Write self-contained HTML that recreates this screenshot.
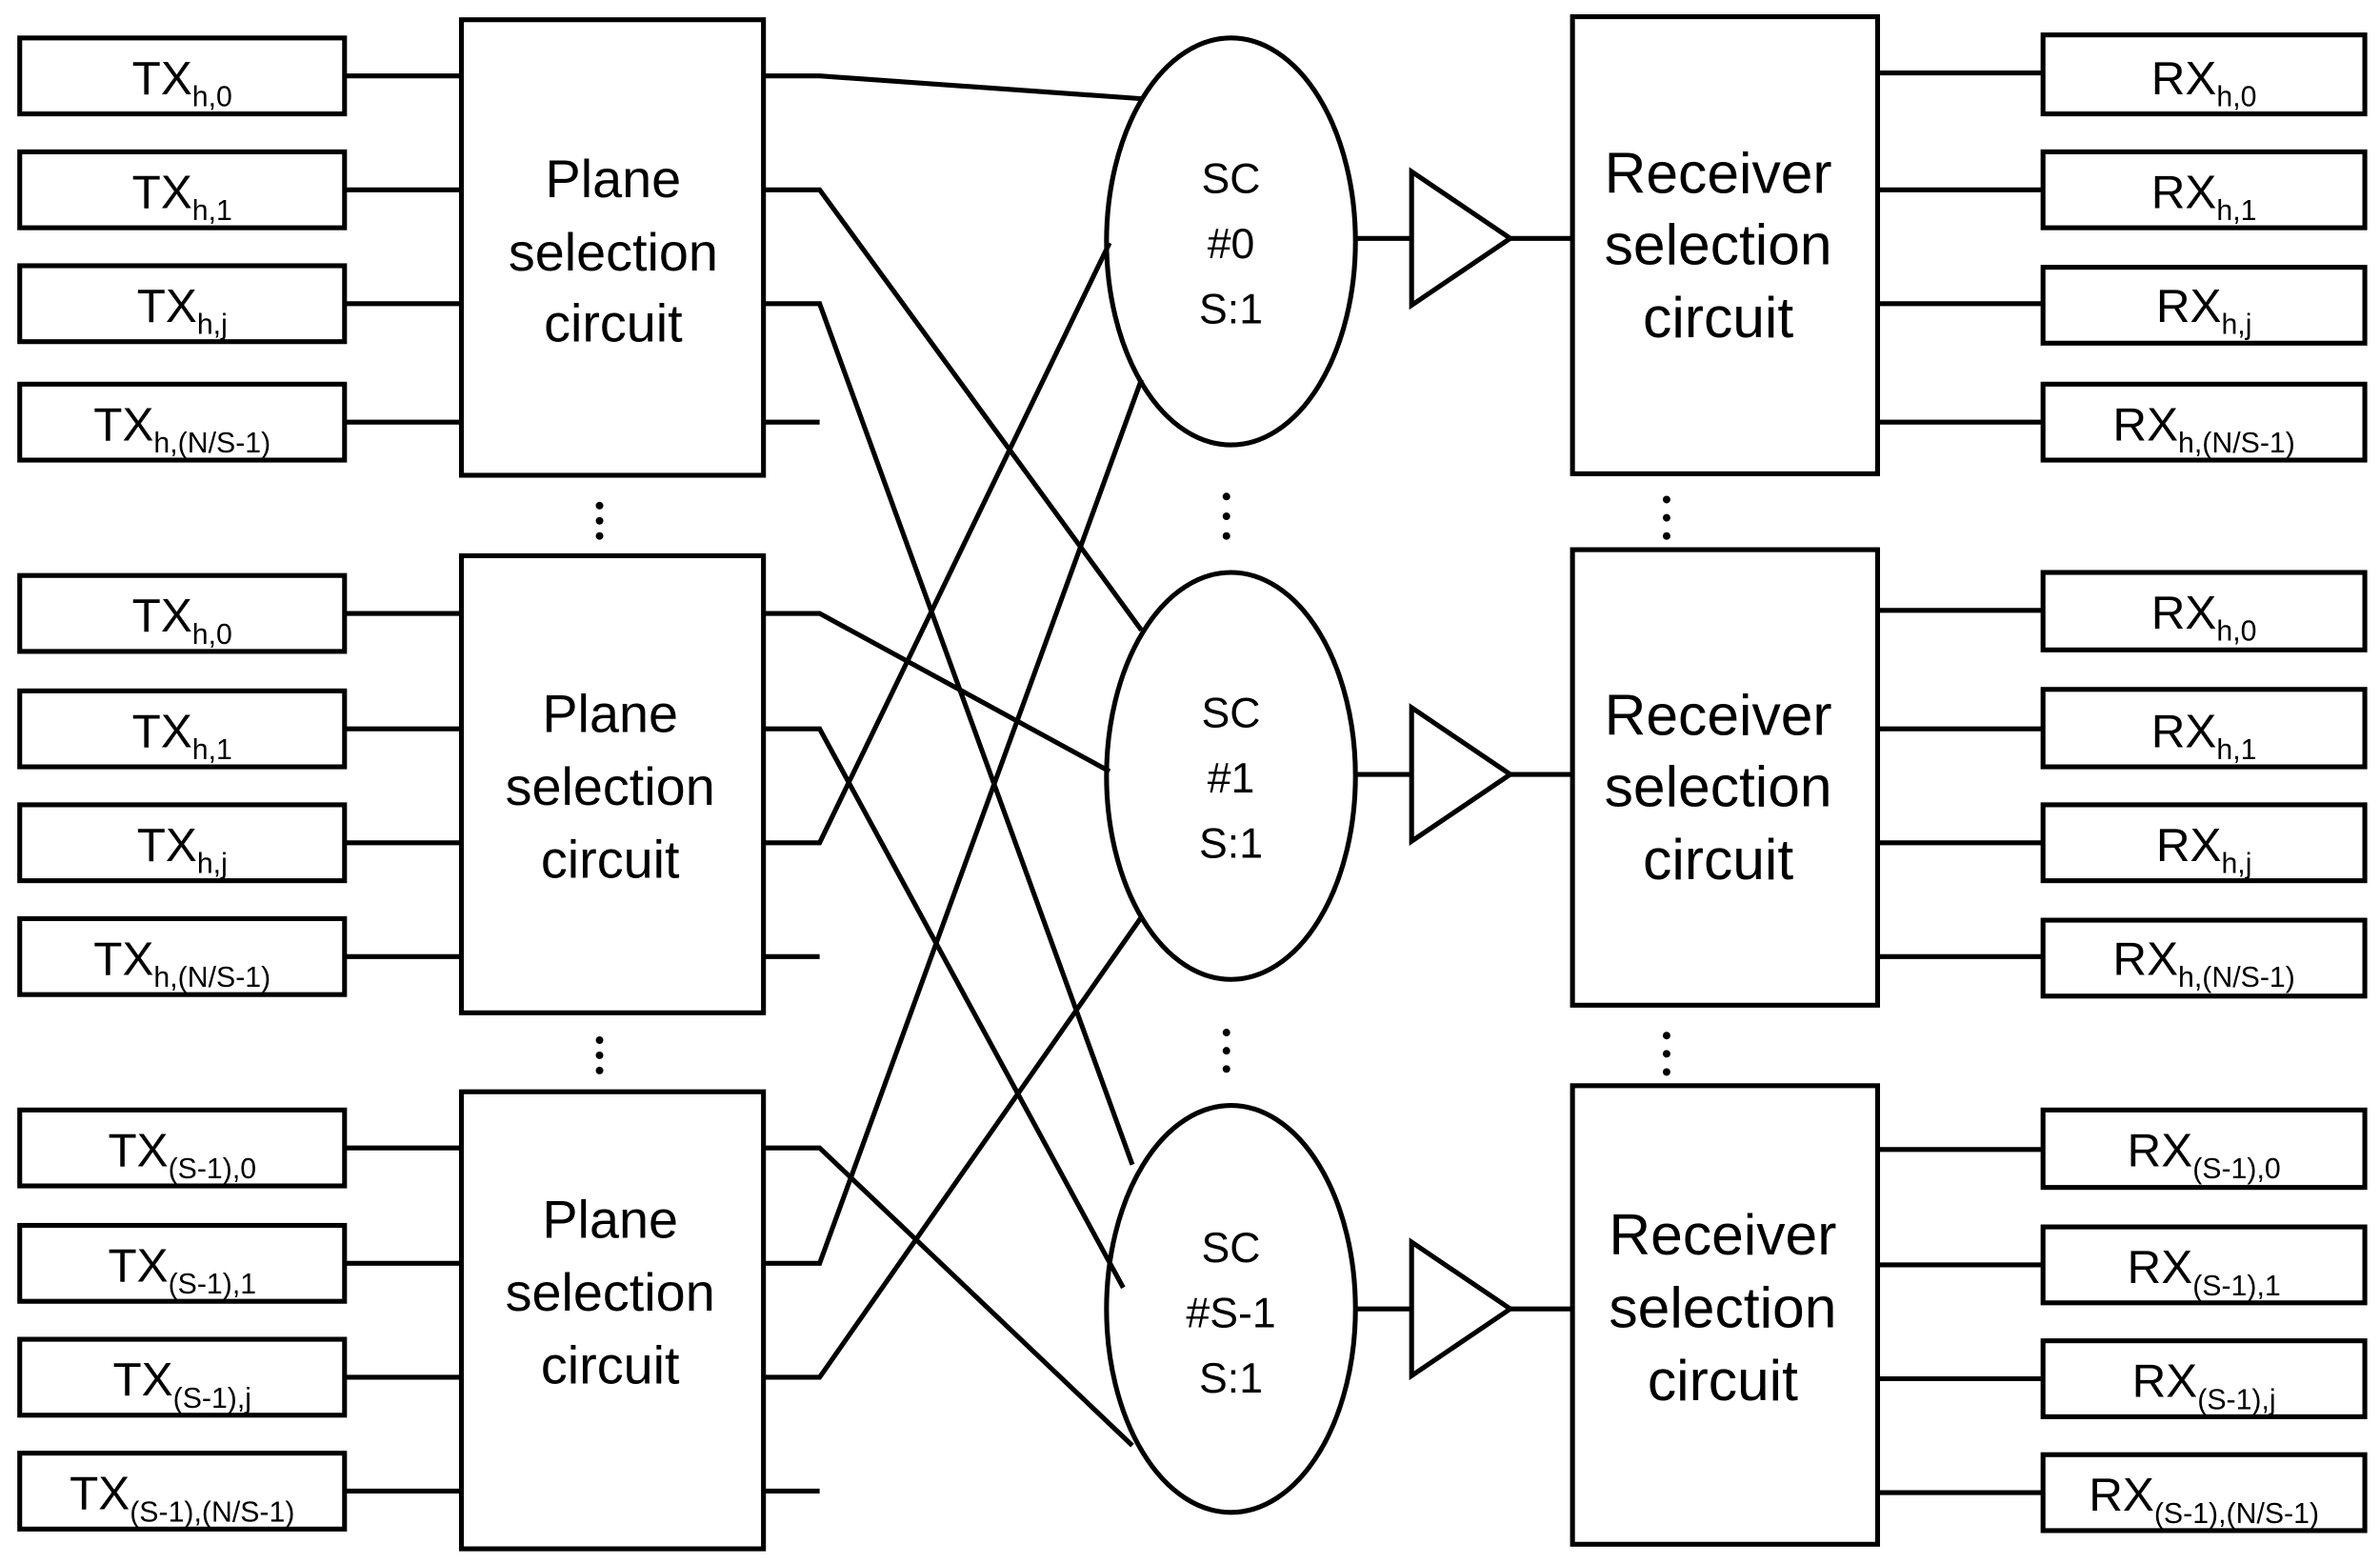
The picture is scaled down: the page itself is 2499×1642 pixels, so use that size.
<!DOCTYPE html>
<html><head><meta charset="utf-8"><style>
html,body{margin:0;padding:0;background:#fff;}
svg{display:block;}
text{font-family:"Liberation Sans",sans-serif;fill:#000;}
.t{font-size:31px;text-anchor:middle;}
.s{font-size:19px;}
.b{font-size:35px;text-anchor:middle;}
.r{font-size:38px;text-anchor:middle;}
.e{font-size:28px;text-anchor:middle;}
</style></head><body>
<svg width="2499" height="1642" viewBox="0 0 1568 1030" preserveAspectRatio="none" xmlns="http://www.w3.org/2000/svg">
<g fill="none" stroke="#000" stroke-width="3.2">
<rect x="13" y="25" width="214" height="50"/><rect x="13" y="100" width="214" height="50"/><rect x="13" y="175" width="214" height="50"/><rect x="13" y="253" width="214" height="50"/>
<rect x="13" y="379" width="214" height="50"/><rect x="13" y="455" width="214" height="50"/><rect x="13" y="530" width="214" height="50"/><rect x="13" y="605" width="214" height="50"/>
<rect x="13" y="731" width="214" height="50"/><rect x="13" y="807" width="214" height="50"/><rect x="13" y="882" width="214" height="50"/><rect x="13" y="957" width="214" height="50"/>
<rect x="304" y="13" width="199" height="300"/><rect x="304" y="366" width="199" height="301"/><rect x="304" y="719" width="199" height="301"/>
<path d="M227 50H304M227 125H304M227 200H304M227 278H304M227 404H304M227 480H304M227 555H304M227 630H304M227 756H304M227 832H304M227 907H304M227 982H304"/>
<path d="M503 278H540M503 630H540M503 982H540"/>
<polyline points="503,50 540,50 752,65"/>
<polyline points="503,125 540,125 752,415"/>
<polyline points="503,200 540,200 746,767"/>
<polyline points="503,404 540,404 731,508"/>
<polyline points="503,480 540,480 740,848"/>
<polyline points="503,555 540,555 731,160"/>
<polyline points="503,756 540,756 746,952"/>
<polyline points="503,832 540,832 752,250"/>
<polyline points="503,907 540,907 752,604"/>
<ellipse cx="811" cy="159" rx="82" ry="134"/>
<ellipse cx="811" cy="511" rx="82" ry="134"/>
<ellipse cx="811" cy="862" rx="82" ry="134"/>
<path d="M893 157H930M995 157H1035"/><polygon points="930,113 930,201 995,157"/>
<path d="M893 510H930M995 510H1035"/><polygon points="930,466 930,554 995,510"/>
<path d="M893 862H930M995 862H1035"/><polygon points="930,818 930,906 995,862"/>
<rect x="1036" y="11" width="201" height="301"/><rect x="1036" y="362" width="201" height="300"/><rect x="1036" y="715" width="201" height="302"/>
<rect x="1346" y="23" width="212" height="52"/><rect x="1346" y="100" width="212" height="50"/><rect x="1346" y="176" width="212" height="50"/><rect x="1346" y="253" width="212" height="50"/>
<rect x="1346" y="377" width="212" height="51"/><rect x="1346" y="454" width="212" height="51"/><rect x="1346" y="530" width="212" height="50"/><rect x="1346" y="606" width="212" height="50"/>
<rect x="1346" y="731" width="212" height="51"/><rect x="1346" y="808" width="212" height="50"/><rect x="1346" y="883" width="212" height="50"/><rect x="1346" y="958" width="212" height="50"/>
<path d="M1237 48H1346M1237 125H1346M1237 200H1346M1237 278H1346M1237 402H1346M1237 480H1346M1237 555H1346M1237 630H1346M1237 757H1346M1237 833H1346M1237 908H1346M1237 983H1346"/>
</g>
<g fill="#000">
<circle cx="395" cy="333" r="2.5"/><circle cx="395" cy="343" r="2.5"/><circle cx="395" cy="353" r="2.5"/>
<circle cx="395" cy="685" r="2.5"/><circle cx="395" cy="695" r="2.5"/><circle cx="395" cy="705" r="2.5"/>
<circle cx="808" cy="327" r="2.5"/><circle cx="808" cy="340" r="2.5"/><circle cx="808" cy="353" r="2.5"/>
<circle cx="808" cy="680" r="2.5"/><circle cx="808" cy="692" r="2.5"/><circle cx="808" cy="704" r="2.5"/>
<circle cx="1098" cy="329" r="2.5"/><circle cx="1098" cy="341" r="2.5"/><circle cx="1098" cy="353" r="2.5"/>
<circle cx="1098" cy="682" r="2.5"/><circle cx="1098" cy="694" r="2.5"/><circle cx="1098" cy="706" r="2.5"/>
</g>
<text class="t" x="120" y="62">TX<tspan class="s" dy="8">h,0</tspan></text>
<text class="t" x="120" y="137">TX<tspan class="s" dy="8">h,1</tspan></text>
<text class="t" x="120" y="212">TX<tspan class="s" dy="8">h,j</tspan></text>
<text class="t" x="120" y="290">TX<tspan class="s" dy="8">h,(N/S-1)</tspan></text>
<text class="t" x="120" y="416">TX<tspan class="s" dy="8">h,0</tspan></text>
<text class="t" x="120" y="492">TX<tspan class="s" dy="8">h,1</tspan></text>
<text class="t" x="120" y="567">TX<tspan class="s" dy="8">h,j</tspan></text>
<text class="t" x="120" y="642">TX<tspan class="s" dy="8">h,(N/S-1)</tspan></text>
<text class="t" x="120" y="768">TX<tspan class="s" dy="8">(S-1),0</tspan></text>
<text class="t" x="120" y="844">TX<tspan class="s" dy="8">(S-1),1</tspan></text>
<text class="t" x="120" y="919">TX<tspan class="s" dy="8">(S-1),j</tspan></text>
<text class="t" x="120" y="994">TX<tspan class="s" dy="8">(S-1),(N/S-1)</tspan></text>
<text class="t" x="1452" y="62">RX<tspan class="s" dy="8">h,0</tspan></text>
<text class="t" x="1452" y="137">RX<tspan class="s" dy="8">h,1</tspan></text>
<text class="t" x="1452" y="212">RX<tspan class="s" dy="8">h,j</tspan></text>
<text class="t" x="1452" y="290">RX<tspan class="s" dy="8">h,(N/S-1)</tspan></text>
<text class="t" x="1452" y="414">RX<tspan class="s" dy="8">h,0</tspan></text>
<text class="t" x="1452" y="492">RX<tspan class="s" dy="8">h,1</tspan></text>
<text class="t" x="1452" y="567">RX<tspan class="s" dy="8">h,j</tspan></text>
<text class="t" x="1452" y="642">RX<tspan class="s" dy="8">h,(N/S-1)</tspan></text>
<text class="t" x="1452" y="768">RX<tspan class="s" dy="8">(S-1),0</tspan></text>
<text class="t" x="1452" y="845">RX<tspan class="s" dy="8">(S-1),1</tspan></text>
<text class="t" x="1452" y="920">RX<tspan class="s" dy="8">(S-1),j</tspan></text>
<text class="t" x="1452" y="995">RX<tspan class="s" dy="8">(S-1),(N/S-1)</tspan></text>
<text class="b" x="404" y="130">Plane</text><text class="b" x="404" y="178">selection</text><text class="b" x="404" y="225">circuit</text>
<text class="b" x="402" y="482">Plane</text><text class="b" x="402" y="530">selection</text><text class="b" x="402" y="578">circuit</text>
<text class="b" x="402" y="815">Plane</text><text class="b" x="402" y="863">selection</text><text class="b" x="402" y="911">circuit</text>
<text class="r" x="1132" y="127">Receiver</text><text class="r" x="1132" y="174">selection</text><text class="r" x="1132" y="222">circuit</text>
<text class="r" x="1132" y="484">Receiver</text><text class="r" x="1132" y="531">selection</text><text class="r" x="1132" y="579">circuit</text>
<text class="r" x="1135" y="826">Receiver</text><text class="r" x="1135" y="874">selection</text><text class="r" x="1135" y="922">circuit</text>
<text class="e" x="811" y="127">SC</text><text class="e" x="811" y="170">#0</text><text class="e" x="811" y="213">S:1</text>
<text class="e" x="811" y="479">SC</text><text class="e" x="811" y="522">#1</text><text class="e" x="811" y="565">S:1</text>
<text class="e" x="811" y="831">SC</text><text class="e" x="811" y="874">#S-1</text><text class="e" x="811" y="917">S:1</text>
</svg>
</body></html>
